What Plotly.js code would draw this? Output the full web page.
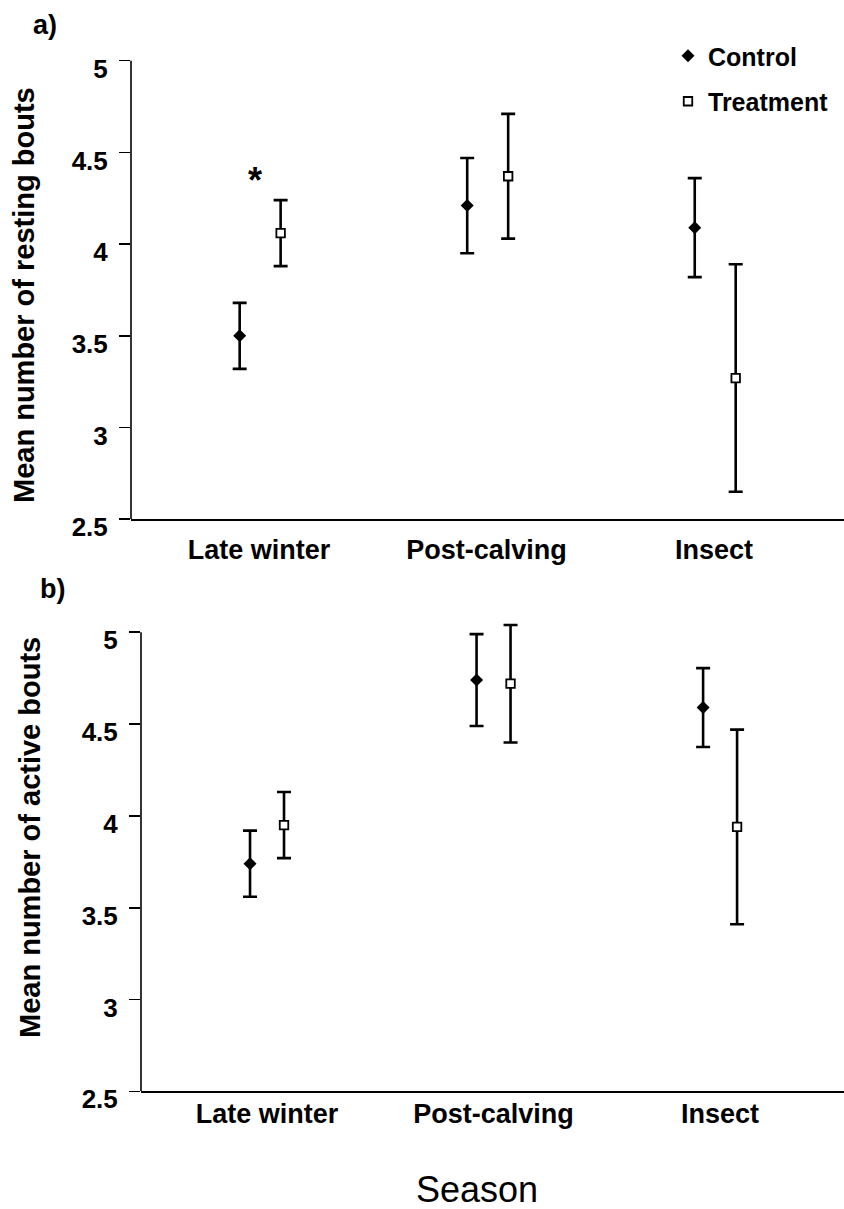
<!DOCTYPE html>
<html>
<head>
<meta charset="utf-8">
<script src="https://cdn.plot.ly/plotly-3.0.1.min.js"></script>
<style>html,body{margin:0;padding:0;background:#fff;}#chart{width:844px;height:1209px;}</style>
</head>
<body>
<div id="chart"></div>
<script>
// ---- data ----
const seasons = ['Late winter', 'Post-calving', 'Insect'];
const seasonPos = [1, 2, 3];
const yTicks = [2.5, 3, 3.5, 4, 4.5, 5];

// a) resting bouts
const restControlMean = [3.50, 4.21, 4.09];
const restControlSE   = [0.18, 0.26, 0.27];
const restTreatMean   = [4.06, 4.37, 3.27];
const restTreatSE     = [0.18, 0.34, 0.62];

// b) active bouts
const activeControlMean = [3.74, 4.74, 4.59];
const activeControlSE   = [0.18, 0.25, 0.215];
const activeTreatMean   = [3.95, 4.72, 3.94];
const activeTreatSE     = [0.18, 0.32, 0.53];

// ---- styling ----
const FONT = 'Liberation Sans, Arial, Helvetica, sans-serif';
const offA = {control: -0.085, treat: 0.095};
const offB = {control: -0.075, treat: 0.075};

function shift(arr, d) { return arr.map(v => v + d); }

const errStyle = {type: 'data', visible: true, color: '#000', thickness: 2.6, width: 7};
const ctrlMarker = {symbol: 'diamond', size: 10, color: '#000', line: {width: 0}};
const trtMarker = {symbol: 'square', size: 8.5, color: '#fff', line: {color: '#000', width: 1.8}};

const traces = [
  {x: shift(seasonPos, offA.control), y: restControlMean, error_y: Object.assign({array: restControlSE}, errStyle),
   mode: 'markers', marker: ctrlMarker, name: 'Control', legendgroup: 'c', xaxis: 'x', yaxis: 'y', cliponaxis: false},
  {x: shift(seasonPos, offA.treat), y: restTreatMean, error_y: Object.assign({array: restTreatSE}, errStyle),
   mode: 'markers', marker: trtMarker, name: 'Treatment', legendgroup: 't', xaxis: 'x', yaxis: 'y', cliponaxis: false},
  {x: shift(seasonPos, offB.control), y: activeControlMean, error_y: Object.assign({array: activeControlSE}, errStyle),
   mode: 'markers', marker: ctrlMarker, name: 'Control', legendgroup: 'c', showlegend: false, xaxis: 'x2', yaxis: 'y2', cliponaxis: false},
  {x: shift(seasonPos, offB.treat), y: activeTreatMean, error_y: Object.assign({array: activeTreatSE}, errStyle),
   mode: 'markers', marker: trtMarker, name: 'Treatment', legendgroup: 't', showlegend: false, xaxis: 'x2', yaxis: 'y2', cliponaxis: false}
];

const W = 844, H = 1209;
function px(v) { return v / W; }
function py(v) { return 1 - v / H; }

// vertical layout: value 5 and 2.5 pixel rows, y range extended slightly above 5 so tall error bars are not clipped
const yTop = 5.1;
const aPix = {top: 60.7, bottom: 519.3};
const bPix = {top: 632.3, bottom: 1091.3};
function domFor(p) {
  const perUnit = (p.bottom - p.top) / 2.5;
  return [py(p.bottom), py(p.top - (yTop - 5) * perUnit)];
}
const xDomA = [px(131), 1];
const xDomB = [px(141), 1];

const xCommon = {
  tickmode: 'array', tickvals: seasonPos, ticktext: seasons, ticks: '',
  showline: true, linecolor: '#000', linewidth: 1.6, showgrid: false, zeroline: false,
  tickfont: {family: FONT, size: 27, color: '#000', weight: 700}, fixedrange: true
};
const yCommon = {
  range: [2.5, yTop], tickmode: 'array', tickvals: yTicks, ticks: 'outside', ticklen: 11, tickwidth: 1.6, tickcolor: '#000',
  showline: false, showgrid: false, zeroline: false,
  tickfont: {family: FONT, size: 26, color: '#000', weight: 700}, ticklabelshift: 8, ticklabelstandoff: 6, fixedrange: true
};

const layout = {
  width: W, height: H,
  margin: {l: 0, r: 0, t: 0, b: 0},
  paper_bgcolor: '#fff', plot_bgcolor: '#fff',
  font: {family: FONT, color: '#000'},
  showlegend: true,
  legend: {x: px(668), y: py(33), xanchor: 'left', yanchor: 'top', bgcolor: 'rgba(0,0,0,0)',
           font: {family: FONT, size: 25, color: '#000', weight: 700}, tracegroupgap: 10, traceorder: 'grouped'},
  xaxis: Object.assign({}, xCommon, {domain: xDomA, range: [0.4374, 3.571], anchor: 'y', ticklabelstandoff: 6}),
  yaxis: Object.assign({}, yCommon, {domain: domFor(aPix), anchor: 'x'}),
  xaxis2: Object.assign({}, xCommon, {domain: xDomB, range: [0.4437, 3.547], anchor: 'y2', ticklabelstandoff: -2}),
  yaxis2: Object.assign({}, yCommon, {domain: domFor(bPix), anchor: 'x2'}),
  shapes: [
    {type: 'line', xref: 'paper', yref: 'y', x0: xDomA[0], x1: xDomA[0], y0: 2.5, y1: 5, line: {color: '#000', width: 1.6}},
    {type: 'line', xref: 'paper', yref: 'y2', x0: xDomB[0], x1: xDomB[0], y0: 2.5, y1: 5, line: {color: '#000', width: 1.6}}
  ],
  annotations: [
    {text: 'a)', xref: 'paper', yref: 'paper', x: px(45), y: py(25), xanchor: 'center', yanchor: 'middle', showarrow: false,
     font: {family: FONT, size: 27, weight: 700}},
    {text: 'b)', xref: 'paper', yref: 'paper', x: px(52), y: py(589), xanchor: 'center', yanchor: 'middle', showarrow: false,
     font: {family: FONT, size: 27, weight: 700}},
    {text: 'Mean number of resting bouts', xref: 'paper', yref: 'paper', x: px(24), y: py(295), textangle: -90,
     xanchor: 'center', yanchor: 'middle', showarrow: false, font: {family: FONT, size: 29, weight: 700}},
    {text: 'Mean number of active bouts', xref: 'paper', yref: 'paper', x: px(30), y: py(838), textangle: -90,
     xanchor: 'center', yanchor: 'middle', showarrow: false, font: {family: FONT, size: 29, weight: 700}},
    {text: 'Season', xref: 'paper', yref: 'paper', x: px(477), y: py(1189), xanchor: 'center', yanchor: 'middle',
     showarrow: false, font: {family: FONT, size: 36}},
    {text: '*', xref: 'x', yref: 'y', x: seasonPos[0], y: 4.38, xshift: -4, yshift: -6, xanchor: 'center', yanchor: 'middle',
     showarrow: false, font: {family: FONT, size: 36, weight: 700}}
  ]
};

Plotly.newPlot('chart', traces, layout, {displayModeBar: false, staticPlot: true});
</script>
</body>
</html>
